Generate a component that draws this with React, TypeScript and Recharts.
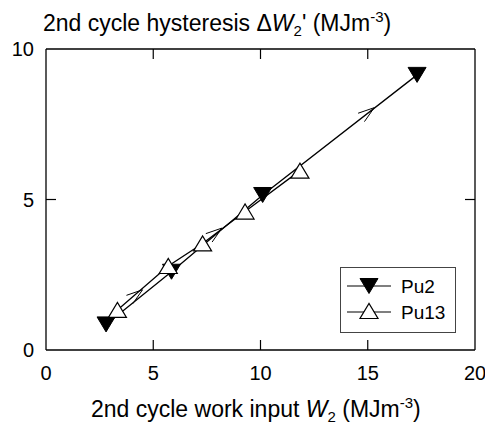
import React from 'react';
import { ScatterChart, Scatter, XAxis, YAxis, Legend } from 'recharts';

// 2nd cycle work input W2 (MJm-3) vs hysteresis dW2' (MJm-3)
const pu2X = [2.8, 5.85, 10.1, 17.3];
const pu2Y = [0.85, 2.6, 5.15, 9.14];
const pu13X = [3.33, 5.7, 7.3, 9.28, 11.84];
const pu13Y = [1.33, 2.79, 3.54, 4.6, 5.96];
// direction arrows along the loading path
const arrowX = [4.5, 8.2, 15.3];
const arrowY = [2.0, 4.05, 8.05];

const xTicks = [0, 5, 10, 15, 20];
const yTicks = [0, 5, 10];

const pu2 = pu2X.map((x, i) => ({ x, y: pu2Y[i] }));
const pu13 = pu13X.map((x, i) => ({ x, y: pu13Y[i] }));
const arrows = arrowX.map((x, i) => ({ x, y: arrowY[i] }));

const FONT = '"Liberation Sans", Arial, sans-serif';
const TICK = 10;

const DownTri = ({ cx, cy }: any) => (
  <polygon points={`${cx - 9},${cy - 7.5} ${cx + 9},${cy - 7.5} ${cx},${cy + 7.5}`} fill="#000" stroke="#000" />
);

const UpTri = ({ cx, cy }: any) => (
  <polygon points={`${cx - 9},${cy + 7.5} ${cx + 9},${cy + 7.5} ${cx},${cy - 7.5}`} fill="#fff" stroke="#000" strokeWidth={1.2} />
);

const Chevron = ({ cx, cy }: any) => {
  const len = 17;
  const a1 = (161 * Math.PI) / 180;
  const a2 = (125 * Math.PI) / 180;
  return (
    <path
      d={`M${cx + len * Math.cos(a1)},${cy + len * Math.sin(a1)} L${cx},${cy} L${cx + len * Math.cos(a2)},${cy + len * Math.sin(a2)}`}
      fill="none"
      stroke="#000"
      strokeWidth={1}
    />
  );
};

const Nothing = () => <g />;

const BottomTick = ({ x, y, payload }: any) => (
  <g>
    {payload.value > 0 && payload.value < 20 && <line x1={x} y1={y} x2={x} y2={y - TICK} stroke="#000" strokeWidth={1.2} />}
    <text x={x} y={y + 30} textAnchor="middle" fontSize={20} fontFamily={FONT} fill="#000">
      {payload.value}
    </text>
  </g>
);

const TopTick = ({ x, y, payload }: any) =>
  payload.value > 0 && payload.value < 20 ? <line x1={x} y1={y} x2={x} y2={y + TICK} stroke="#000" strokeWidth={1.2} /> : <g />;

const LeftTick = ({ x, y, payload }: any) => (
  <g>
    {payload.value > 0 && payload.value < 10 && <line x1={x} y1={y} x2={x + TICK} y2={y} stroke="#000" strokeWidth={1.2} />}
    <text x={x - 12} y={y + 7} textAnchor="end" fontSize={20} fontFamily={FONT} fill="#000">
      {payload.value}
    </text>
  </g>
);

const RightTick = ({ x, y, payload }: any) =>
  payload.value > 0 && payload.value < 10 ? <line x1={x} y1={y} x2={x - TICK} y2={y} stroke="#000" strokeWidth={1.2} /> : <g />;

const LegendBox = () => (
  <div style={{ width: 114, height: 64, border: '1.3px solid #444', background: '#fff' }}>
    <svg width={114} height={64}>
      <line x1={6} x2={50} y1={18} y2={18} stroke="#000" strokeWidth={1.2} />
      <DownTri cx={28} cy={18} />
      <text x={60} y={25} fontSize={19} fontFamily={FONT}>Pu2</text>
      <line x1={6} x2={50} y1={44} y2={44} stroke="#000" strokeWidth={1.2} />
      <UpTri cx={28} cy={43} />
      <text x={60} y={51} fontSize={19} fontFamily={FONT}>Pu13</text>
    </svg>
  </div>
);

const sub = { fontSize: 15, position: 'relative' as const, top: 5 };
const sup = { fontSize: 15, position: 'relative' as const, top: -9 };

export default function App() {
  return (
    <div style={{ position: 'absolute', left: 0, top: 0, width: 485, height: 424, background: '#fff', fontFamily: FONT }}>
      <ScatterChart width={485} height={424} margin={{ top: 48, right: 9, bottom: 0, left: 0 }}>
        <XAxis
          type="number"
          dataKey="x"
          domain={[0, 20]}
          ticks={xTicks}
          height={74}
          tickSize={0}
          tickMargin={0}
          tick={<BottomTick />}
          axisLine={{ stroke: '#000', strokeWidth: 1.3 }}
          tickLine={false}
        />
        <XAxis
          xAxisId="top"
          orientation="top"
          type="number"
          dataKey="x"
          domain={[0, 20]}
          ticks={xTicks}
          height={1}
          tickSize={0}
          tickMargin={0}
          tick={<TopTick />}
          axisLine={{ stroke: '#000', strokeWidth: 1.3 }}
          tickLine={false}
        />
        <YAxis
          type="number"
          dataKey="y"
          domain={[0, 10]}
          ticks={yTicks}
          width={46}
          tickSize={0}
          tickMargin={0}
          tick={<LeftTick />}
          axisLine={{ stroke: '#000', strokeWidth: 1.3 }}
          tickLine={false}
        />
        <YAxis
          yAxisId="right"
          orientation="right"
          type="number"
          dataKey="y"
          domain={[0, 10]}
          ticks={yTicks}
          width={1}
          tickSize={0}
          tickMargin={0}
          tick={<RightTick />}
          axisLine={{ stroke: '#000', strokeWidth: 1.3 }}
          tickLine={false}
        />
        {/* invisible series so the top and right frame axes get drawn */}
        <Scatter
          xAxisId="top"
          yAxisId="right"
          data={pu2}
          shape={<Nothing />}
          legendType="none"
          isAnimationActive={false}
        />
        <Scatter
          name="Pu2"
          data={pu2}
          line={{ stroke: '#000', strokeWidth: 1.3 }}
          lineType="joint"
          shape={<DownTri />}
          isAnimationActive={false}
        />
        <Scatter
          name="Pu13"
          data={pu13}
          line={{ stroke: '#000', strokeWidth: 1.3 }}
          lineType="joint"
          shape={<UpTri />}
          isAnimationActive={false}
        />
        <Scatter name="arrows" data={arrows} shape={<Chevron />} legendType="none" isAnimationActive={false} />
        <Legend
          layout="vertical"
          align="center"
          verticalAlign="middle"
          content={<LegendBox />}
          wrapperStyle={{ left: 340, top: 267, width: 116, height: 66 }}
        />
      </ScatterChart>
      <div style={{ position: 'absolute', left: 43, top: 12, fontSize: 23, lineHeight: '23px', whiteSpace: 'nowrap', color: '#000' }}>
        2nd cycle hysteresis {'\u0394'}<i>W</i>
        <span style={sub}>2</span>' (MJm<span style={sup}>-3</span>)
      </div>
      <div style={{ position: 'absolute', left: 91, top: 398, fontSize: 23, lineHeight: '23px', whiteSpace: 'nowrap', color: '#000' }}>
        2nd cycle work input <i>W</i>
        <span style={sub}>2</span> (MJm<span style={sup}>-3</span>)
      </div>
    </div>
  );
}
